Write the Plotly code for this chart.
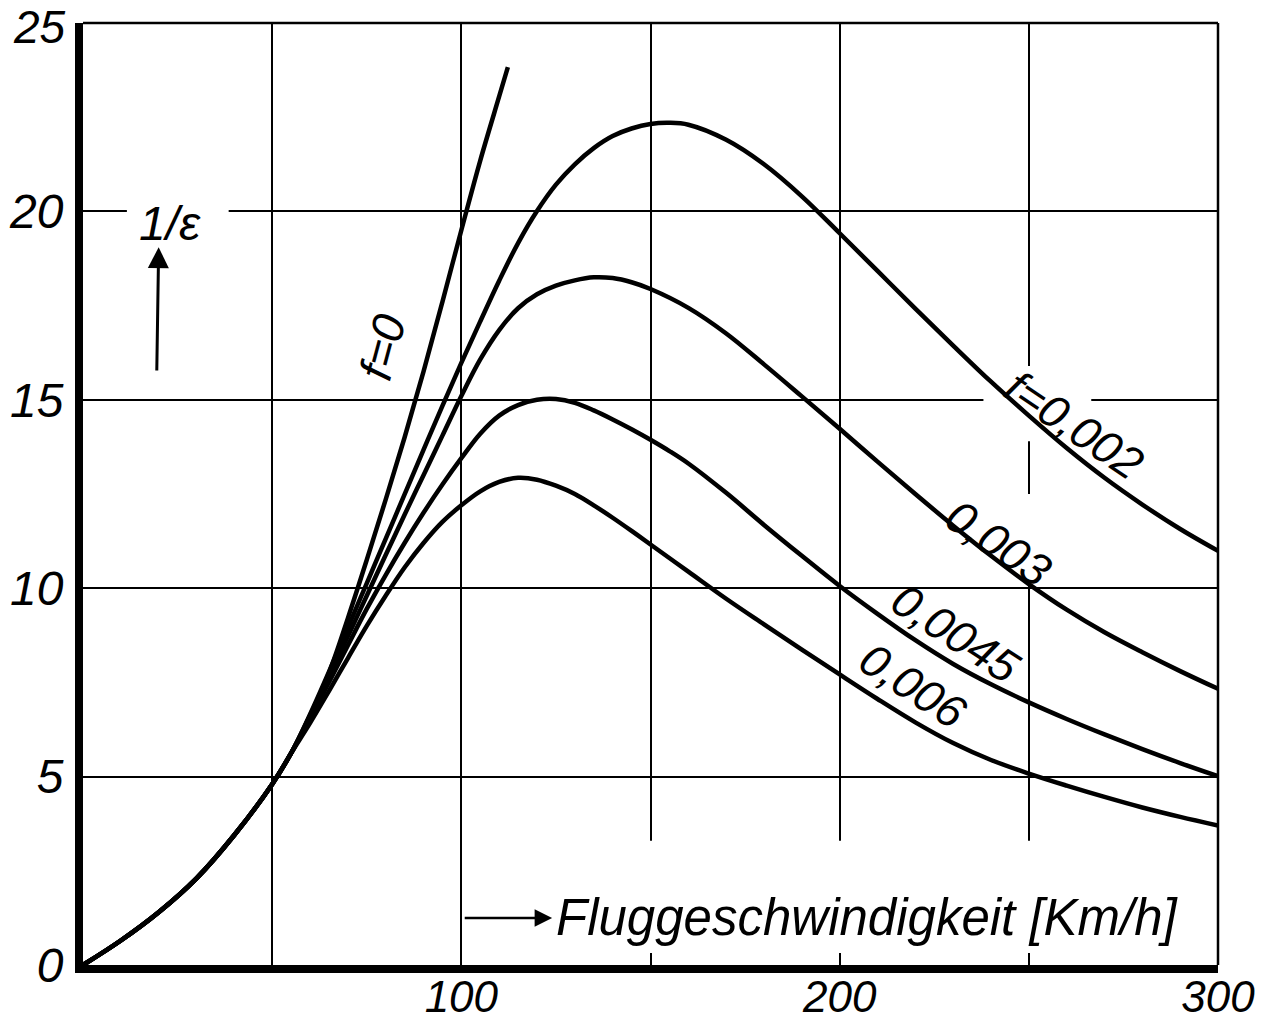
import plotly.graph_objects as go

# ---------------- data ----------------
# common rising branch (all curves coincide up to ~55 km/h)
speed_common = [0, 10, 20, 30, 40, 50, 55]
ratio_common = [0, 0.65, 1.4, 2.3, 3.45, 4.8, 5.62]

speed_f0 = [60, 65, 70, 75, 80, 85, 90, 95, 100, 105, 110, 112.3]
ratio_f0 = [6.6, 7.75, 9.2, 10.75, 12.35, 14.0, 15.75, 17.6, 19.5, 21.35, 23.05, 23.83]

speed_f0002 = [60, 65, 70, 75, 80, 85, 90, 95, 100, 105, 110, 115, 120, 125, 130, 135, 140,
               145, 150, 155, 160, 170, 180, 190, 200, 210, 220, 230, 240, 250, 260, 270,
               280, 290, 300]
ratio_f0002 = [6.65, 7.78, 8.95, 10.13, 11.31, 12.49, 13.67, 14.84, 15.98, 17.08, 18.16, 19.16,
               20.01, 20.71, 21.25, 21.68, 22.0, 22.2, 22.32, 22.35, 22.3, 21.9, 21.25, 20.4,
               19.42, 18.42, 17.42, 16.44, 15.48, 14.58, 13.72, 12.93, 12.22, 11.57, 10.99]

speed_f0003 = [60, 65, 70, 75, 80, 85, 90, 95, 100, 105, 110, 115, 120, 125, 130, 135, 140,
               145, 150, 160, 170, 180, 190, 200, 210, 220, 230, 240, 250, 260, 270, 280,
               290, 300]
ratio_f0003 = [6.62, 7.65, 8.72, 9.8, 10.88, 11.95, 13.0, 14.05, 15.1, 16.07, 16.85, 17.43,
               17.8, 18.03, 18.17, 18.25, 18.23, 18.12, 17.94, 17.44, 16.76, 15.94, 15.09,
               14.23, 13.36, 12.5, 11.66, 10.86, 10.11, 9.43, 8.83, 8.3, 7.8, 7.33]

speed_f00045 = [60, 65, 70, 75, 80, 85, 90, 95, 100, 105, 110, 115, 120, 125, 130, 135, 140,
                145, 150, 155, 160, 170, 180, 190, 200, 210, 220, 230, 240, 250, 260, 270,
                280, 290, 300]
ratio_f00045 = [6.55, 7.5, 8.48, 9.45, 10.35, 11.2, 12.0, 12.75, 13.45, 14.1, 14.58, 14.86,
                15.0, 15.02, 14.92, 14.72, 14.48, 14.22, 13.94, 13.64, 13.31, 12.53, 11.68,
                10.86, 10.06, 9.32, 8.62, 7.99, 7.45, 6.97, 6.53, 6.12, 5.73, 5.36, 5.01]

speed_f0006 = [60, 65, 70, 75, 80, 85, 90, 95, 100, 105, 110, 115, 120, 125, 130, 135, 140,
               145, 150, 160, 170, 180, 190, 200, 210, 220, 230, 240, 250, 260, 270, 280,
               290, 300]
ratio_f0006 = [6.42, 7.27, 8.14, 9.0, 9.8, 10.55, 11.2, 11.76, 12.2, 12.57, 12.82, 12.93,
               12.88, 12.72, 12.5, 12.2, 11.87, 11.52, 11.16, 10.44, 9.72, 9.04, 8.37, 7.71,
               7.06, 6.44, 5.89, 5.44, 5.08, 4.76, 4.46, 4.18, 3.93, 3.7]

curve_names = ["f=0", "f=0,002", "f=0,003", "f=0,0045", "f=0,006"]
curve_speeds = [speed_f0, speed_f0002, speed_f0003, speed_f00045, speed_f0006]
curve_ratios = [ratio_f0, ratio_f0002, ratio_f0003, ratio_f00045, ratio_f0006]

x_tickvals = [0, 50, 100, 150, 200, 250, 300]
x_ticktext = ["", "", "100", "", "200", "", "300"]
y_tickvals = [0, 5, 10, 15, 20, 25]
y_ticktext = ["0", "5", "10", "15", "20", ""]   # "25" drawn as annotation (nudged inside)
y_top_label = "25"

# curve labels: text, x, y, angle
label_texts = ["f=0", "f=0,002", "0,003", "0,0045", "0,006"]
label_x = [79.2, 262.0, 242.0, 230.5, 219.5]
label_y = [16.4, 14.33, 11.2, 8.8, 7.4]
label_angle = [-75, 34, 34, 33, 33]

FONT = "Liberation Sans"

fig = go.Figure()
for name, sx, ry in zip(curve_names, curve_speeds, curve_ratios):
    fig.add_trace(go.Scatter(
        x=speed_common + sx, y=ratio_common + ry, mode="lines", name=name,
        line=dict(color="black", width=4.5, shape="spline", smoothing=1.0),
        showlegend=False))

for t, lx, ly, a in zip(label_texts, label_x, label_y, label_angle):
    fig.add_annotation(x=lx, y=ly, text=t, showarrow=False, textangle=a,
                       font=dict(family=FONT, size=46, color="black", style="italic"))

# top y tick label, nudged so it stays inside the page
fig.add_annotation(xref="paper", x=0, y=y_tickvals[-1], yref="y", text=y_top_label,
                   showarrow=False, xanchor="right", yanchor="middle", xshift=-15, yshift=-4,
                   font=dict(family=FONT, size=46, color="black", style="italic"))

# y-quantity label with arrow
fig.add_annotation(x=23, y=19.67, text="1/ε", showarrow=False,
                   font=dict(family=FONT, size=48, color="black", style="italic"))
fig.add_annotation(x=20, y=19.05, ax=19.5, ay=15.74, axref="x", ayref="y", text="",
                   showarrow=True, arrowhead=2, arrowsize=1.4, arrowwidth=3, arrowcolor="black")

# x-quantity label with arrow
fig.add_annotation(x=124, y=1.25, ax=100.5, ay=1.25, axref="x", ayref="y", text="",
                   showarrow=True, arrowhead=2, arrowsize=1.4, arrowwidth=2.5, arrowcolor="black")
fig.add_annotation(x=124.5, y=1.25, text="Fluggeschwindigkeit [Km/h]", showarrow=False,
                   xanchor="left",
                   font=dict(family=FONT, size=51, color="black", style="italic"))

# gaps in the grid where lettering sits (white patches between grid and traces)
gaps = [
    (11.6, 38.5, 19.7, 20.3),
    (238, 266.5, 14.7, 15.3),
    (248, 252, 13.9, 15.9),
    (248, 252, 10.14, 12.5),
    (110, 292, 0.32, 3.3),
]
for x0, x1, y0, y1 in gaps:
    fig.add_shape(type="rect", x0=x0, x1=x1, y0=y0, y1=y1, xref="x", yref="y",
                  fillcolor="white", line=dict(width=0), layer="between")

# thin top and right frame
fig.add_shape(type="line", xref="paper", yref="paper", x0=0, x1=1, y0=1, y1=1,
              line=dict(color="black", width=2.5))
fig.add_shape(type="line", xref="paper", yref="paper", x0=1, x1=1, y0=0, y1=1,
              line=dict(color="black", width=2.5))

fig.update_layout(
    width=1279, height=1025,
    margin=dict(l=83, r=61, t=23, b=60),
    paper_bgcolor="white", plot_bgcolor="white",
    xaxis=dict(range=[0, 300], tickvals=x_tickvals, ticktext=x_ticktext, automargin=False,
               showgrid=True, gridcolor="black", gridwidth=2, zeroline=False,
               showline=True, linecolor="black", linewidth=8,
               ticks="", ticklabelstandoff=-14,
               ticklabeloverflow="allow",
               tickfont=dict(family=FONT, size=44, color="black", style="italic")),
    yaxis=dict(range=[0, 25], tickvals=y_tickvals, ticktext=y_ticktext, automargin=False,
               showgrid=True, gridcolor="black", gridwidth=2, zeroline=False,
               showline=True, linecolor="black", linewidth=8,
               ticks="", ticklabelstandoff=2,
               ticklabeloverflow="allow",
               tickfont=dict(family=FONT, size=48, color="black", style="italic")),
)

fig.write_html("out.html", config={"displayModeBar": False},
               post_script="document.body.style.margin='0';")
